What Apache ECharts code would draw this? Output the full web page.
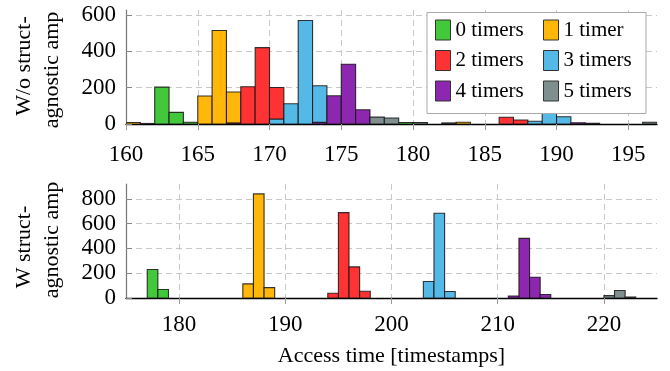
<!DOCTYPE html>
<html><head><meta charset="utf-8">
<script src="https://cdn.jsdelivr.net/npm/echarts@6/dist/echarts.min.js"></script>
<style>html,body{margin:0;padding:0;background:#fff}#c{width:670px;height:371px}</style>
</head><body><div id="c"></div>
<script>
// Series names and colours
const seriesNames = ['0 timers', '1 timer', '2 timers', '3 timers', '4 timers', '5 timers'];
const seriesColors = ['#43c83c', '#ffb70a', '#ff3333', '#55b9e8', '#8e27b0', '#7f8f8f'];

// Top panel (W/o struct-agnostic amp): [bin start, count], bins of width 1
const top0 = [[162, 203], [163, 64], [164, 10], [179, 8], [180, 5]];
const top1 = [[160, 8], [165, 154], [166, 514], [167, 176], [183, 10]];
const top2 = [[167, 6], [168, 205], [169, 420], [170, 201], [186, 37], [187, 22]];
const top3 = [[170, 27], [171, 111], [172, 569], [173, 210], [188, 15], [189, 95], [190, 40]];
const top4 = [[173, 9], [174, 155], [175, 329], [176, 78], [191, 7], [192, 4]];
const top5 = [[161, 3], [177, 38], [178, 33], [180, 8], [182, 6], [196, 10]];

// Bottom panel (W struct-agnostic amp)
const bot0 = [[177, 230], [178, 68]];
const bot1 = [[186, 114], [187, 840], [188, 84]];
const bot2 = [[194, 38], [195, 689], [196, 251], [197, 54]];
const bot3 = [[203, 133], [204, 684], [205, 52]];
const bot4 = [[211, 16], [212, 481], [213, 168], [214, 28]];
const bot5 = [[220, 19], [221, 60], [222, 8]];

const topData = [top0, top1, top2, top3, top4, top5];
const botData = [bot0, bot1, bot2, bot3, bot4, bot5];

const FONT = '"Liberation Serif", "Times New Roman", serif';

function makeRender(color) {
  return function (params, api) {
    const x0 = api.value(0), v = api.value(1);
    const p0 = api.coord([x0, 0]);
    const p1 = api.coord([x0 + 1, v]);
    return {
      type: 'rect',
      shape: { x: p0[0], y: p1[1], width: p1[0] - p0[0], height: p0[1] - p1[1] },
      style: { fill: color, stroke: 'rgba(20,20,20,0.85)', lineWidth: 1.1 }
    };
  };
}

const series = [];
topData.forEach((d, i) => series.push({
  type: 'custom', name: seriesNames[i], xAxisIndex: 0, yAxisIndex: 0,
  data: d, encode: { x: 0, y: 1 }, renderItem: makeRender(seriesColors[i]), clip: true, z: 2
}));
botData.forEach((d, i) => series.push({
  type: 'custom', name: seriesNames[i], xAxisIndex: 1, yAxisIndex: 1,
  data: d, encode: { x: 0, y: 1 }, renderItem: makeRender(seriesColors[i]), clip: true, z: 2
}));

const splitLine = { show: true, showMinLine: false, showMaxLine: false,
  lineStyle: { color: '#c8c8c8', type: [6, 4], width: 1 } };
const axLabel = { color: '#000', fontFamily: FONT, fontSize: 23 };

function xAx(gi, extra) {
  return Object.assign({
    type: 'value', gridIndex: gi,
    axisLine: { show: true, onZero: false, lineStyle: { color: '#000', width: 1.3 } },
    axisTick: { show: true, inside: false, length: 6, lineStyle: { color: '#999' } },
    axisLabel: Object.assign({ margin: 19, showMaxLabel: false }, axLabel),
    splitLine: splitLine
  }, extra);
}
function yAx(gi, extra) {
  return Object.assign({
    type: 'value', gridIndex: gi, min: 0,
    axisLine: { show: true, lineStyle: { color: '#777', width: 1.2 } },
    axisTick: { show: true, inside: true, length: 6, lineStyle: { color: '#888' } },
    axisLabel: Object.assign({ margin: 10, showMaxLabel: false }, axLabel),
    splitLine: splitLine
  }, extra);
}

function legendData(idx) {
  return idx.map(i => ({ name: seriesNames[i], icon: 'rect',
    itemStyle: { color: seriesColors[i], borderColor: '#333', borderWidth: 1 } }));
}
const legendCommon = { orient: 'vertical', itemWidth: 15, itemHeight: 20, itemGap: 9.5, padding: 0,
  textStyle: { color: '#000', fontFamily: FONT, fontSize: 21 }, selectedMode: false, z: 5 };

const option = {
  animation: false,
  backgroundColor: '#fff',
  grid: [
    { left: 126, top: 10, width: 531, height: 114 },
    { left: 126, top: 184, width: 531, height: 114 }
  ],
  xAxis: [
    xAx(0, { min: 160, max: 197, interval: 5 }),
    xAx(1, { min: 175, max: 225, splitNumber: 5,
      axisLabel: Object.assign({ margin: 15, showMinLabel: false, showMaxLabel: false }, axLabel),
      name: 'Access time [timestamps]', nameLocation: 'middle', nameGap: 47,
      nameTextStyle: { color: '#000', fontFamily: FONT, fontSize: 22 } })
  ],
  yAxis: [
    yAx(0, { max: 627, interval: 200 }),
    yAx(1, { max: 920, interval: 200 })
  ],
  legend: [
    Object.assign({ left: 435, top: 19.5, data: legendData([0, 2, 4]) }, legendCommon),
    Object.assign({ left: 543, top: 19.5, data: legendData([1, 3, 5]) }, legendCommon)
  ],
  graphic: [
    { type: 'rect', z: 3, shape: { x: 427, y: 12.5, width: 219, height: 101 },
      style: { fill: '#fff', stroke: '#aaa', lineWidth: 1 } },
    { type: 'text', x: 24, y: 66, rotation: Math.PI / 2,
      style: { text: 'W/o struct-', font: '22px ' + FONT, fill: '#000', textAlign: 'center', textVerticalAlign: 'middle' } },
    { type: 'text', x: 52, y: 70, rotation: Math.PI / 2,
      style: { text: 'agnostic amp', font: '22px ' + FONT, fill: '#000', textAlign: 'center', textVerticalAlign: 'middle' } },
    { type: 'text', x: 24, y: 247, rotation: Math.PI / 2,
      style: { text: 'W struct-', font: '22px ' + FONT, fill: '#000', textAlign: 'center', textVerticalAlign: 'middle' } },
    { type: 'text', x: 52, y: 240, rotation: Math.PI / 2,
      style: { text: 'agnostic amp', font: '22px ' + FONT, fill: '#000', textAlign: 'center', textVerticalAlign: 'middle' } }
  ],
  series: series
};

const chart = echarts.init(document.getElementById('c'), null, { renderer: 'canvas' });
chart.setOption(option);
</script>
</body></html>
